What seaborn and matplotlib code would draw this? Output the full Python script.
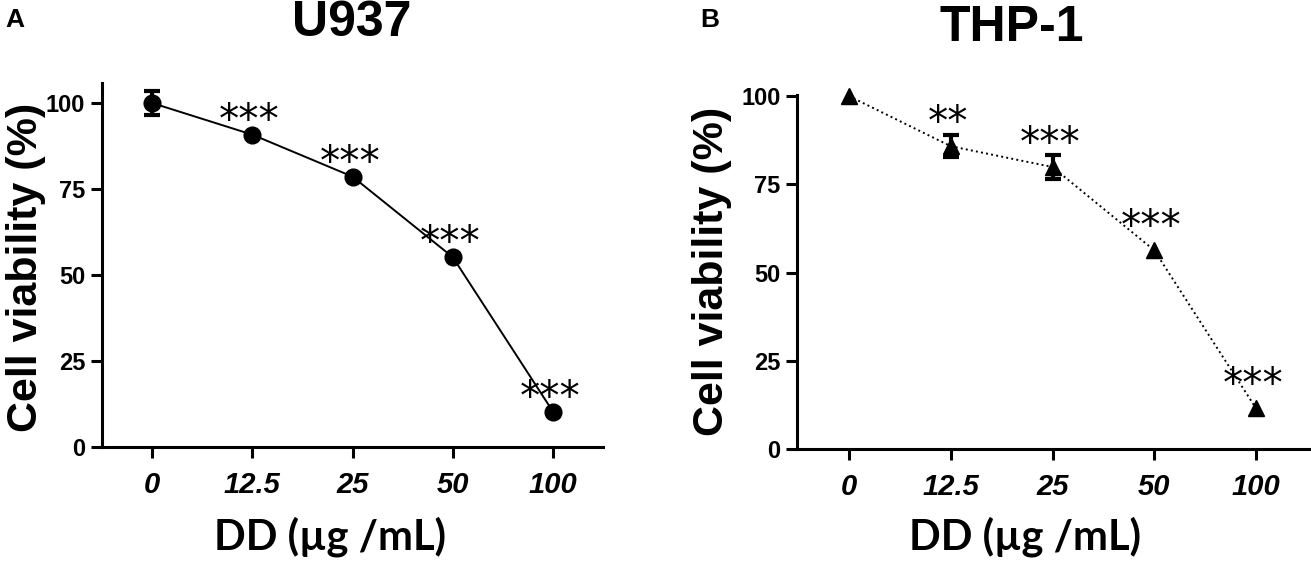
import matplotlib
matplotlib.use("Agg")
import matplotlib.pyplot as plt
import seaborn as sns
import numpy as np
import pandas as pd
from matplotlib import font_manager

sns.set_style("ticks", {'axes.edgecolor': 'black', 'text.color': 'black',
                        'xtick.color': 'black', 'ytick.color': 'black'})
plt.rcParams['font.family'] = ['Liberation Sans', 'DejaVu Sans']

# check for a condensed face, else plain
names = {f.name for f in font_manager.fontManager.ttflist}
narrow = 'Liberation Sans Narrow' if 'Liberation Sans Narrow' in names else 'Liberation Sans'

# data (sd 0 = bar hidden by marker)
doses = ['0', '12.5', '25', '50', '100']
u937_mean = [100, 90.8, 78.6, 55.2, 10.3]
u937_sd = [3.4, 0, 0, 0, 0]
u937_stars = ['', '***', '***', '***', '***']
thp1_mean = [100, 85.8, 79.9, 56.3, 11.5]
thp1_sd = [0, 3.2, 3.4, 0, 0]
thp1_stars = ['', '**', '***', '***', '***']
yticks = [0, 25, 50, 75, 100]

fig = plt.figure(figsize=(13.11, 5.65), dpi=100)
ax1 = fig.add_axes([0.0778, 0.2088, 0.3822, 0.6442])
ax2 = fig.add_axes([0.608, 0.2053, 0.392, 0.6265])


def panel(ax, mean, sd, stars, marker, ls, ytop, star_dy, ytick_font):
    df = pd.DataFrame({'dose': doses, 'viab': mean, 'sd': sd})
    df['pos'] = np.arange(len(doses))
    eb = df[df['sd'] > 0]
    ax.errorbar(eb['pos'], eb['viab'], yerr=eb['sd'], fmt='none', ecolor='black',
                elinewidth=3, capsize=6, capthick=3, zorder=3, clip_on=False)
    sns.pointplot(data=df, x='dose', y='viab', order=doses, ax=ax, color='black',
                  marker=marker, markersize=12, linestyle=ls, linewidth=1.4,
                  errorbar=None, zorder=4)
    for line in ax.lines:
        line.set_clip_on(False)
    for i, s in enumerate(stars):
        if s:
            ax.annotate(s, (i, mean[i]), xytext=(-2, star_dy), textcoords='offset points',
                        ha='center', va='baseline', fontsize=29, family='DejaVu Sans',
                        color='black')
    ax.set_ylim(0, ytop)
    ax.set_yticks(yticks)
    ax.set_yticklabels([str(t) for t in yticks], fontsize=17, fontweight='bold',
                       family=ytick_font, color='black')
    ax.set_xticks(df['pos'])
    ax.set_xticklabels(doses, fontsize=21, fontweight='bold', style='italic',
                       family=narrow, color='black')
    sns.despine(ax=ax)
    for sp in ['left', 'bottom']:
        ax.spines[sp].set_linewidth(2.2)
        ax.spines[sp].set_color('black')
    ax.tick_params(width=2.2, length=8, pad=4, colors='black')
    ax.tick_params(axis='x', pad=9)
    ax.set_xlabel('')
    ax.set_ylabel('')


panel(ax1, u937_mean, u937_sd, u937_stars, 'o', '-', 105.8, 1.5, narrow)
ax1.set_xlim(-0.5, 4.5)
panel(ax2, thp1_mean, thp1_sd, thp1_stars, '^', ':', 100.3, 8, 'Liberation Sans')
ax2.set_xlim(-0.51, 4.54)

# y labels, x labels, titles, panel letters
fig.text(0.02, 0.527, 'Cell viability (%)', rotation=90, ha='center', va='center',
         fontsize=31, fontweight='heavy', color='black')
fig.text(0.543, 0.519, 'Cell viability (%)', rotation=90, ha='center', va='center',
         fontsize=31, fontweight='heavy', color='black')
for xc in [0.252, 0.782]:
    fig.text(xc, 0.05, 'DD (\u00b5g /mL)', ha='center', va='center', fontsize=30,
             fontweight='bold', family=['Lato', 'DejaVu Sans'], color='black')
fig.text(0.268, 0.96, 'U937', ha='center', va='center', fontsize=36, fontweight='bold')
fig.text(0.772, 0.95, 'THP-1', ha='center', va='center', fontsize=36, fontweight='bold')
fig.text(0.004, 0.965, 'A', ha='left', va='center', fontsize=19, fontweight='bold')
fig.text(0.534, 0.965, 'B', ha='left', va='center', fontsize=19, fontweight='bold')

fig.savefig('out.png', dpi=100)
